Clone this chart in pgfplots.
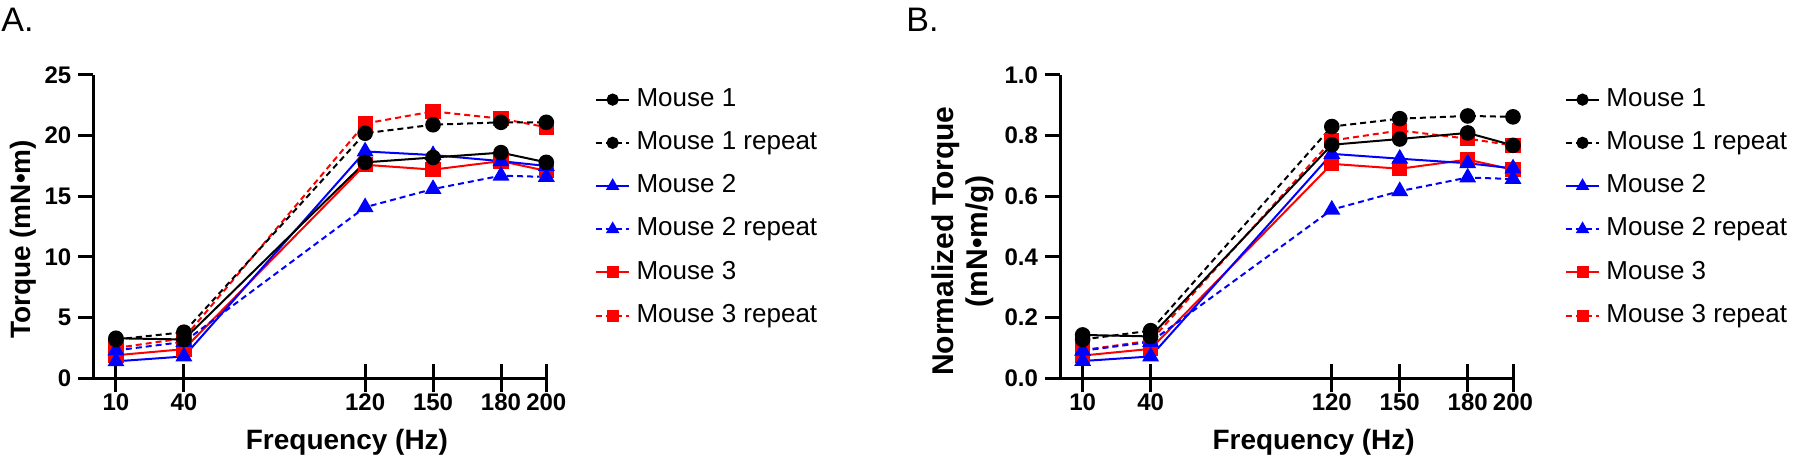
\documentclass[border=0pt]{standalone}
\usepackage{pgfplots}
\pgfplotsset{compat=1.18}
\usepackage{pgfplotstable}
\usepackage{fontspec}
\setmainfont{Liberation Sans}

\pgfplotstableread{
f   m1   m1r  m2   m2r  m3   m3r
10  3.3  3.2  1.4  2.3  1.9  2.5
40  3.2  3.8  1.8  3.0  2.4  3.3
120 17.8 20.2 18.7 14.1 17.6 21.0
150 18.2 20.9 18.4 15.6 17.2 22.0
180 18.6 21.1 17.9 16.7 17.9 21.4
200 17.8 21.1 17.5 16.6 17.1 20.7
}\dataA

\pgfplotstableread{
f   m1    m1r   m2    m2r   m3    m3r
10  0.143 0.128 0.057 0.091 0.075 0.093
40  0.138 0.157 0.072 0.120 0.097 0.124
120 0.770 0.830 0.740 0.556 0.707 0.784
150 0.789 0.856 0.724 0.617 0.691 0.817
180 0.809 0.865 0.709 0.662 0.721 0.790
200 0.768 0.862 0.692 0.657 0.688 0.768
}\dataB

\pgfplotsset{
  geom/.style={scale only axis, width=226.5bp, height=151.65bp, xmin=0, xmax=200},
  panel/.style={
    geom, ymin=0, clip=false,
    axis lines=left,
    axis line style={line width=1.5bp, -},
    every tick/.style={line width=1.5bp, black},
    xtick=\empty,
    ytick align=outside,
    major tick length=7.5bp,
    tick label style={font=\fontsize{12bp}{14bp}\selectfont\bfseries},
    /pgf/number format/assume math mode=true,
    xlabel={Frequency (Hz)},
    xlabel style={at={(axis description cs:0.56,0)}, anchor=base, yshift=-35.35bp,
      font=\fontsize{14bp}{16bp}\selectfont\bfseries},
    ylabel style={anchor=center, align=center},
    reverse legend,
    legend style={draw=none, fill=none, anchor=north west, inner sep=0pt,
      font=\fontsize{13bp}{15bp}\selectfont,
      row sep=9.8bp,
      nodes={inner sep=0pt, text height=9.2bp, text depth=2.6bp},
      /tikz/column 1/.style={column sep=3.2bp}},
    legend cell align=left,
    legend image code/.code={\draw[mark repeat=2, mark phase=2] plot coordinates {(0bp,0bp) (8.25bp,0bp) (16.5bp,0bp)};},
    legend image post style={/tikz/every mark/.append style={scale=0.75}},
  },
  xticks/.style={
    geom, ymin=0, ymax=1,
    axis x line=bottom, axis y line=none,
    axis line style={line width=1.5bp, -},
    every tick/.style={line width=1.5bp, black},
    xtick={10,40,120,150,180,200},
    xtick align=center, major tick length=14bp,
    tick label style={font=\fontsize{12bp}{14bp}\selectfont\bfseries},
    xticklabel style={yshift=3bp},
    /pgf/number format/assume math mode=true,
  },
  sM1/.style={black, line width=1bp, mark=*, mark size=3.4bp, mark options={solid, fill=black}},
  sM1r/.style={black, line width=1bp, dash pattern=on 3bp off 2bp, mark=*, mark size=3.4bp, mark options={solid, fill=black}},
  sM2/.style={blue, line width=1bp, mark=triangle*, mark size=3.9bp, mark options={solid, fill=blue}},
  sM2r/.style={blue, line width=1bp, dash pattern=on 3bp off 2bp, mark=triangle*, mark size=3.9bp, mark options={solid, fill=blue}},
  sM3/.style={red, line width=1bp, mark=square*, mark size=3.3bp, mark options={solid, fill=red}},
  sM3r/.style={red, line width=1bp, dash pattern=on 3bp off 2bp, mark=square*, mark size=3.3bp, mark options={solid, fill=red}},
}

\begin{document}
\begin{tikzpicture}
\useasboundingbox (0,0) rectangle (900bp,229.5bp);
\node[anchor=north west, inner sep=0pt, font=\fontsize{17bp}{19bp}\selectfont] at (0.5bp,225.5bp) {A.};
\node[anchor=north west, inner sep=0pt, font=\fontsize{17bp}{19bp}\selectfont] at (453bp,225.5bp) {B.};

\begin{axis}[xticks, at={(46.65bp,40.35bp)}, anchor=south west]
\end{axis}
\begin{axis}[panel, at={(46.65bp,40.35bp)}, anchor=south west,
  ymax=25, ytick={0,5,10,15,20,25},
  ylabel={Torque (mN•m)},
  ylabel style={at={(axis description cs:-0.155,0.458)}, font=\fontsize{14bp}{16.5bp}\selectfont\bfseries},
  legend style={at={(axis description cs:1.107,0.959)}}]
\addplot[sM3r] table[x=f,y=m3r]{\dataA}; \addlegendentry{Mouse 3 repeat}
\addplot[sM3]  table[x=f,y=m3]{\dataA};  \addlegendentry{Mouse 3}
\addplot[sM2r] table[x=f,y=m2r]{\dataA}; \addlegendentry{Mouse 2 repeat}
\addplot[sM2]  table[x=f,y=m2]{\dataA};  \addlegendentry{Mouse 2}
\addplot[sM1r] table[x=f,y=m1r]{\dataA}; \addlegendentry{Mouse 1 repeat}
\addplot[sM1]  table[x=f,y=m1]{\dataA};  \addlegendentry{Mouse 1}
\end{axis}

\begin{axis}[xticks, at={(530bp,40.35bp)}, anchor=south west]
\end{axis}
\begin{axis}[panel, at={(530bp,40.35bp)}, anchor=south west,
  ymax=1, ytick={0,0.2,0.4,0.6,0.8,1.0},
  yticklabel style={/pgf/number format/.cd, fixed, fixed zerofill, precision=1},
  ylabel={Normalized Torque\\(mN•m/g)},
  ylabel style={at={(axis description cs:-0.215,0.452)}, font=\fontsize{15bp}{17bp}\selectfont\bfseries},
  legend style={at={(axis description cs:1.114,0.959)}}]
\addplot[sM3r] table[x=f,y=m3r]{\dataB}; \addlegendentry{Mouse 3 repeat}
\addplot[sM3]  table[x=f,y=m3]{\dataB};  \addlegendentry{Mouse 3}
\addplot[sM2r] table[x=f,y=m2r]{\dataB}; \addlegendentry{Mouse 2 repeat}
\addplot[sM2]  table[x=f,y=m2]{\dataB};  \addlegendentry{Mouse 2}
\addplot[sM1r] table[x=f,y=m1r]{\dataB}; \addlegendentry{Mouse 1 repeat}
\addplot[sM1]  table[x=f,y=m1]{\dataB};  \addlegendentry{Mouse 1}
\end{axis}
\end{tikzpicture}
\end{document}
